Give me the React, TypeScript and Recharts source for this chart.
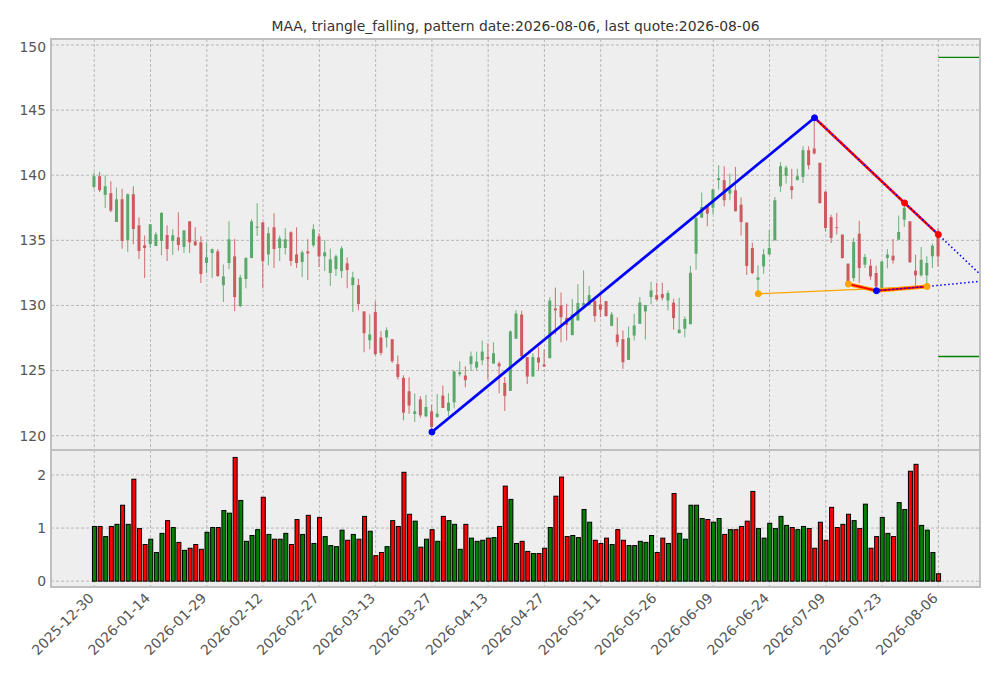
import React from 'react';
import { ComposedChart, Bar, Line, XAxis, YAxis, CartesianGrid } from 'recharts';

const OPEN = [139.10,139.92,138.49,138.62,136.41,138.15,135.03,138.54,136.15,134.62,134.72,134.56,134.95,135.41,134.95,135.23,134.49,136.46,134.92,134.85,133.26,134.03,134.15,131.56,133.26,133.77,129.95,132.03,133.64,135.96,136.38,133.92,136.00,134.41,134.41,135.62,133.92,133.33,134.15,134.62,135.31,133.77,132.49,132.79,132.64,133.23,131.56,131.56,129.54,127.33,129.49,127.54,127.54,127.41,125.49,124.44,123.41,121.67,122.79,121.49,121.87,121.44,123.08,121.90,122.56,124.72,124.62,125.49,125.23,125.79,126.03,125.54,125.54,124.05,123.44,127.44,129.30,126.03,124.54,126.00,125.46,125.95,129.77,130.00,129.05,127.72,128.85,130.00,130.00,130.38,130.08,130.33,128.44,127.77,127.41,125.82,127.69,128.59,129.54,130.64,130.79,130.87,130.38,130.21,127.87,128.21,128.56,133.97,136.74,137.62,137.51,139.62,139.62,138.59,138.85,137.74,136.36,134.41,131.97,133.00,133.92,135.00,139.15,139.95,139.15,139.62,139.87,141.92,142.05,140.95,138.74,136.77,136.00,135.44,133.21,132.10,135.51,133.13,133.05,132.49,131.33,133.64,133.82,135.05,136.59,136.46,132.67,132.31,132.31,133.77,135.41];
const HIGH = [140.20,140.26,140.00,139.54,139.05,138.97,138.60,139.15,136.77,135.38,136.26,135.64,137.18,136.15,135.85,137.15,135.77,136.46,136.00,135.31,134.85,134.38,134.31,133.15,136.46,135.10,132.36,133.72,136.62,137.85,136.40,136.00,137.08,135.38,135.92,135.69,136.00,134.23,135.08,136.23,135.54,135.00,134.38,133.92,134.54,133.69,132.59,132.05,129.54,129.33,130.31,128.03,128.33,127.41,126.15,124.64,124.49,123.23,123.05,123.15,122.38,123.20,123.85,123.26,125.03,125.72,125.33,126.46,126.46,127.31,127.10,127.18,125.69,124.51,128.10,129.64,129.60,126.03,126.33,126.79,126.59,130.62,131.38,131.00,130.13,130.49,131.62,132.69,131.49,130.38,130.79,130.33,129.49,129.08,128.08,128.38,129.36,130.64,130.03,131.82,131.74,131.74,131.15,130.51,130.59,129.15,133.05,136.74,138.67,137.62,139.00,140.77,140.69,140.13,140.64,138.28,136.36,134.82,133.08,134.36,135.77,138.33,141.00,140.74,140.49,140.49,142.23,142.23,144.41,140.95,138.74,136.97,137.10,135.44,133.21,135.18,136.51,133.95,133.56,133.05,133.38,134.33,135.10,136.90,137.87,136.46,133.90,134.49,133.77,134.74,135.95];
const LOW = [138.97,138.72,137.49,137.15,136.41,134.36,134.10,134.69,133.56,132.10,134.41,134.56,133.85,133.41,133.87,134.20,134.03,134.03,134.56,131.72,132.49,132.10,132.18,130.26,132.79,129.56,129.87,131.33,133.64,135.33,131.33,133.08,132.87,133.41,133.92,133.03,132.87,132.18,131.95,134.46,132.95,132.64,131.49,132.26,132.10,131.33,129.49,129.64,126.41,126.64,126.15,126.18,126.77,125.59,124.31,121.18,121.69,121.05,121.38,121.41,120.28,121.38,122.13,121.49,122.08,124.54,123.72,124.97,125.03,125.41,124.31,125.51,123.26,121.90,123.44,127.44,126.00,123.97,124.54,125.00,125.31,125.95,127.77,127.18,127.31,127.72,128.85,130.00,130.00,128.72,129.10,129.18,128.40,126.85,125.13,125.82,127.31,128.59,127.38,130.10,130.38,130.38,129.62,128.13,127.87,127.56,128.56,132.74,136.74,136.08,137.00,138.90,137.62,138.08,137.23,135.38,132.33,132.40,130.90,132.44,133.92,135.00,138.72,139.36,138.18,139.62,139.41,140.44,141.59,137.80,135.69,134.79,135.44,133.60,131.64,131.85,131.72,132.87,131.97,131.13,131.30,132.85,133.21,135.05,136.03,133.30,131.46,132.23,131.46,132.87,133.00];
const CLOSE = [139.92,138.85,139.15,137.28,138.15,134.95,138.54,135.87,134.18,134.41,136.23,135.46,137.10,134.33,135.38,134.64,135.77,134.85,134.62,132.41,133.69,134.31,132.26,132.23,135.08,130.64,132.15,133.64,136.46,136.05,133.41,135.54,134.33,135.15,135.08,133.41,133.26,134.08,134.00,135.85,133.77,134.08,133.54,133.77,134.38,132.72,132.15,130.10,127.87,127.77,126.26,126.36,128.10,125.72,124.51,121.77,122.31,121.87,121.56,122.21,120.67,121.69,122.13,122.54,124.92,124.87,124.26,126.10,125.69,126.46,125.90,126.33,125.33,123.05,128.00,129.38,126.10,124.54,126.03,125.62,125.31,130.38,129.62,129.10,128.51,129.31,130.18,130.18,130.79,129.18,129.67,129.18,129.31,127.18,125.64,127.51,128.46,130.23,130.03,131.15,130.46,130.59,130.95,129.03,128.15,128.97,132.51,136.74,137.56,137.05,138.90,139.77,138.08,138.90,137.23,136.41,133.03,132.49,132.15,133.92,134.41,138.08,140.69,140.59,138.85,139.92,141.92,140.77,141.67,137.87,135.95,135.18,135.95,133.64,131.79,134.87,132.87,133.72,132.23,131.46,133.38,133.90,133.46,135.64,137.49,133.31,132.31,133.51,133.26,134.59,133.77];
const VOLUME = [1.03,1.03,0.84,1.03,1.07,1.43,1.07,1.92,0.99,0.69,0.79,0.54,0.90,1.14,1.01,0.73,0.58,0.62,0.69,0.60,0.92,1.01,1.01,1.33,1.28,2.33,1.52,0.75,0.86,0.97,1.58,0.88,0.79,0.79,0.90,0.69,1.16,0.88,1.24,0.71,1.20,0.84,0.67,0.65,0.96,0.77,0.88,0.79,1.22,0.94,0.48,0.54,
  0.65,1.14,1.03,2.05,1.26,1.13,0.64,0.79,0.97,0.75,1.22,1.14,1.07,0.60,1.07,0.81,0.75,0.77,0.81,0.82,1.03,1.79,1.54,0.71,0.75,0.56,0.52,0.52,0.62,1.01,1.60,1.96,0.84,0.86,0.82,1.35,1.11,0.77,0.71,0.81,0.69,0.97,0.77,0.67,0.67,0.75,0.73,0.86,0.54,0.81,0.71,1.65,
  0.90,0.79,1.43,1.43,1.18,1.16,1.11,1.18,0.88,0.97,0.97,1.03,1.13,1.69,0.99,0.81,1.09,0.99,1.22,1.05,1.01,0.97,1.03,0.99,0.62,1.11,0.77,1.39,1.01,1.07,1.26,1.14,0.99,1.45,0.62,0.84,1.20,0.90,0.84,1.48,1.35,2.07,2.20,1.05,0.96,0.54,0.14];

const TICK_IDX = [0, 10, 20, 30, 40, 50, 60, 70, 80, 90, 100, 110, 120, 130, 140, 150];
const TICK_LABELS = ['2025-12-30','2026-01-14','2026-01-29','2026-02-12','2026-02-27','2026-03-13','2026-03-27','2026-04-13','2026-04-27','2026-05-11','2026-05-26','2026-06-09','2026-06-24','2026-07-09','2026-07-23','2026-08-06'];
const PRICE_TICKS = [120, 125, 130, 135, 140, 145, 150];
const VOLUME_TICKS = [0, 1, 2];

const RISE_LINE = [{ x: 60, y: 120.28 }, { x: 128, y: 144.41 }];
const UPPER_LINE = [{ x: 128, y: 144.41 }, { x: 144, y: 137.87 }, { x: 150, y: 135.44 }];
const UPPER_PROJ = [{ x: 128, y: 144.41 }, { x: 150, y: 135.44 }, { x: 157.4, y: 132.4 }];
const SUPPORT_LINE = [{ x: 118, y: 130.9 }, { x: 148, y: 131.46 }];
const LOWER_LINE = [{ x: 134, y: 131.64 }, { x: 139, y: 131.13 }, { x: 148, y: 131.46 }];
const LOWER_PROJ = [{ x: 139, y: 131.13 }, { x: 148, y: 131.46 }, { x: 157.4, y: 131.85 }];
const TARGET_HIGH = [{ x: 150, y: 149.05 }, { x: 157.4, y: 149.05 }];
const TARGET_LOW = [{ x: 150, y: 126.08 }, { x: 157.4, y: 126.08 }];
const BLUE_DOTS = [{ x: 60, y: 120.28 }, { x: 128, y: 144.41 }, { x: 139, y: 131.13 }];
const RED_DOTS = [{ x: 144, y: 137.87 }, { x: 150, y: 135.44 }];
const ORANGE_DOTS = [{ x: 118, y: 130.9 }, { x: 134, y: 131.64 }, { x: 148, y: 131.46 }];

const rows = OPEN.map((o, i) => ({ x: i, open: o, high: HIGH[i], low: LOW[i], close: CLOSE[i], volume: VOLUME[i] }));

const X_DOMAIN: [number, number] = [-7.69, 157.4];
const FONT = 'DejaVu Sans, sans-serif';
const FS = 13.9;
const GREEN_C = '#5aa96a';
const RED_C = '#cd5a5e';

const Candle = (props: any) => {
  const { x, y, width, height, payload } = props;
  if (!payload || x == null) return null;
  const { open, close, high, low } = payload;
  const top = Math.min(y, y + height);
  const h = Math.abs(height);
  const cx = x + width / 2;
  const range = high - low;
  const k = range > 0 ? h / range : 0;
  const bTop = top + (high - Math.max(open, close)) * k;
  const bBot = top + (high - Math.min(open, close)) * k;
  const color = close >= open ? GREEN_C : RED_C;
  return (
    <g>
      <line x1={cx} x2={cx} y1={top} y2={top + h} stroke={color} strokeOpacity={0.8} strokeWidth={1.1} />
      <rect x={cx - 1.5} y={bTop} width={3} height={Math.max(bBot - bTop, 0.8)} fill={color} />
    </g>
  );
};

const VolBar = (props: any) => {
  const { x, y, width, height, payload } = props;
  if (!payload || x == null) return null;
  const up = payload.close >= payload.open;
  const top = Math.min(y, y + height);
  return <rect x={x} y={top} width={width} height={Math.abs(height)} fill={up ? '#008000' : '#ff0000'} stroke="#000" strokeWidth={1} />;
};

const DateTick = (props: any) => {
  const { x, y, payload } = props;
  const idx = TICK_IDX.indexOf(payload.value);
  const label = idx >= 0 ? TICK_LABELS[idx] : '';
  const ax = x + 0.5;
  const ay = y + 12;
  return (
    <text x={ax} y={ay} transform={`rotate(-45 ${ax} ${ay})`} textAnchor="end" fill="#555" fontSize={FS} fontFamily={FONT}>
      {label}
    </text>
  );
};

const dotFor = (fill: string) => (p: any) => {
  if (p.cx == null || p.cy == null) return <g key={p.index} />;
  return <circle key={p.index} cx={p.cx} cy={p.cy} r={3} fill={fill} stroke={fill} />;
};

export default function App() {
  const tickStyle = { fill: '#555', fontSize: FS, fontFamily: FONT };
  return (
    <div style={{ position: 'absolute', left: 0, top: 0, width: 1001, height: 678, background: '#fff', overflow: 'hidden' }}>
      <div style={{ position: 'absolute', left: 0, width: 1031, top: 18, textAlign: 'center', fontFamily: FONT, fontSize: FS, color: '#333' }}>
        MAA, triangle_falling, pattern date:2026-08-06, last quote:2026-08-06
      </div>
      <div style={{ position: 'absolute', left: 0, top: 39 }}>
        <ComposedChart width={1001} height={411} data={rows} margin={{ top: 0, right: 21, bottom: 0, left: 0 }}>
          <CartesianGrid stroke="#b8b8b8" strokeDasharray="3 2" fill="#eeeeee" fillOpacity={1} />
          <XAxis dataKey="x" type="number" domain={X_DOMAIN} ticks={TICK_IDX} allowDataOverflow hide />
          <YAxis type="number" domain={[118.9, 150.46]} ticks={PRICE_TICKS} allowDataOverflow width={51} tickLine={false} axisLine={false} tickSize={3} tickMargin={2} tick={tickStyle} />
          <Bar dataKey={(d: any) => [d.low, d.high]} barSize={3} shape={Candle} isAnimationActive={false} />
          <Line data={RISE_LINE} dataKey="y" stroke="#0000ff" strokeWidth={2.8} dot={false} isAnimationActive={false} />
          <Line data={SUPPORT_LINE} dataKey="y" stroke="#ffa500" strokeWidth={1.3} dot={false} isAnimationActive={false} />
          <Line data={LOWER_LINE} dataKey="y" stroke="#ffa500" strokeWidth={4} dot={false} isAnimationActive={false} />
          <Line data={LOWER_LINE} dataKey="y" stroke="#ff0000" strokeWidth={2} dot={false} isAnimationActive={false} />
          <Line data={UPPER_LINE} dataKey="y" stroke="#ff0000" strokeWidth={2.6} dot={false} isAnimationActive={false} />
          <Line data={UPPER_PROJ} dataKey="y" stroke="#0000ff" strokeWidth={1.5} strokeDasharray="1.5 2.5" dot={false} isAnimationActive={false} />
          <Line data={LOWER_PROJ} dataKey="y" stroke="#0000ff" strokeWidth={1.5} strokeDasharray="1.5 2.5" dot={false} isAnimationActive={false} />
          <Line data={TARGET_HIGH} dataKey="y" stroke="#008000" strokeWidth={1.3} dot={false} isAnimationActive={false} />
          <Line data={TARGET_LOW} dataKey="y" stroke="#008000" strokeWidth={1.3} dot={false} isAnimationActive={false} />
          <Line data={ORANGE_DOTS} dataKey="y" stroke="none" dot={dotFor('#ffa500')} isAnimationActive={false} />
          <Line data={RED_DOTS} dataKey="y" stroke="none" dot={dotFor('#ff0000')} isAnimationActive={false} />
          <Line data={BLUE_DOTS} dataKey="y" stroke="none" dot={dotFor('#0000ff')} isAnimationActive={false} />
        </ComposedChart>
      </div>
      <div style={{ position: 'absolute', left: 0, top: 450 }}>
        <ComposedChart width={1001} height={228} data={rows} margin={{ top: 0, right: 21, bottom: 0, left: 0 }}>
          <CartesianGrid stroke="#b8b8b8" strokeDasharray="3 2" fill="#eeeeee" fillOpacity={1} />
          <XAxis dataKey="x" type="number" domain={X_DOMAIN} ticks={TICK_IDX} allowDataOverflow height={91} tickLine={false} axisLine={false} tickSize={0} tickMargin={0} interval={0} tick={<DateTick />} />
          <YAxis type="number" domain={[-0.11, 2.47]} ticks={VOLUME_TICKS} allowDataOverflow width={51} tickLine={false} axisLine={false} tickSize={3} tickMargin={2} tick={tickStyle} />
          <Bar dataKey="volume" barSize={4} shape={VolBar} isAnimationActive={false} />
        </ComposedChart>
      </div>
      <svg width={1001} height={678} style={{ position: 'absolute', left: 0, top: 0, pointerEvents: 'none' }}>
        <rect x={51} y={39} width={929} height={411} fill="none" stroke="#bfbfbf" strokeWidth={2} />
        <rect x={51} y={450} width={929} height={137} fill="none" stroke="#bfbfbf" strokeWidth={2} />
      </svg>
    </div>
  );
}
